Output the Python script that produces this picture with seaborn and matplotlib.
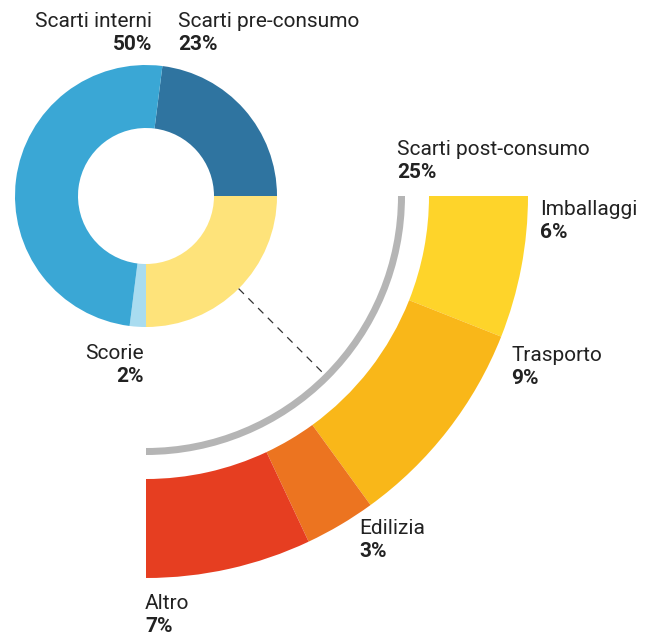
import numpy as np
import matplotlib
matplotlib.use("Agg")
import matplotlib.pyplot as plt
import seaborn as sns

# Ripartizione principale (percentuali), in senso orario dalla fetta "pre-consumo"
main_labels = ["Scarti pre-consumo", "Scarti post-consumo", "Scorie", "Scarti interni"]
main_values = [23, 25, 2, 50]
main_colors = ["#2f74a0", "#fee37a", "#a9dcf0", "#3aa7d5"]

# Dettaglio degli scarti post-consumo
post_labels = ["Imballaggi", "Trasporto", "Edilizia", "Altro"]
post_values = [6, 9, 3, 7]
post_colors = ["#fed42a", "#f9b719", "#ec7420", "#e63e21"]

sns.set_theme(style="white")
plt.rcParams["font.family"] = ["Roboto", "DejaVu Sans"]

W, H = 653, 637
fig = plt.figure(figsize=(W / 100, H / 100), dpi=100)
ax = fig.add_axes([0, 0, 1, 1])

cx, cy = 146, H - 196          # centro comune
r_out, r_in = 131, 68          # ciambella principale
g_out, g_w = 259, 7            # arco grigio
p_out, p_in = 382, 283         # corona di dettaglio

total = sum(main_values)
start = 360 * main_values[0] / total   # la fetta post-consumo parte dalle ore 3

ax.pie(main_values, colors=main_colors, radius=r_out, center=(cx, cy),
       startangle=start, counterclock=False,
       wedgeprops=dict(width=r_out - r_in, linewidth=0))

post_share = main_values[1]
ax.pie([post_share, total - post_share], colors=["#b5b5b5", "none"],
       radius=g_out, center=(cx, cy), startangle=0, counterclock=False,
       wedgeprops=dict(width=g_w, linewidth=0))

ax.pie(post_values + [total - sum(post_values)], colors=post_colors + ["none"],
       radius=p_out, center=(cx, cy), startangle=0, counterclock=False,
       wedgeprops=dict(width=p_out - p_in, linewidth=0))

# collegamento tratteggiato a metà della fetta post-consumo
ang = np.deg2rad(-360 * post_share / total / 2)
rr = np.array([r_out, g_out - g_w])
ax.plot(cx + rr * np.cos(ang), cy + rr * np.sin(ang), color="#333333",
        lw=0.9, ls=(0, (6, 5)))

txt = "#222222"
fs = 15


def label(x, y, name, pct, ha="left"):
    ax.text(x, H - y, name, ha=ha, va="baseline", fontsize=fs, color=txt)
    ax.text(x, H - y - 23, pct, ha=ha, va="baseline", fontsize=fs,
            color=txt, fontweight="bold")


label(152, 27, main_labels[3], f"{main_values[3]}%", ha="right")
label(178, 27, main_labels[0], f"{main_values[0]}%")
label(397, 155, main_labels[1], f"{main_values[1]}%")
label(144, 359, main_labels[2], f"{main_values[2]}%", ha="right")
label(540, 215, post_labels[0], f"{post_values[0]}%")
label(511, 361, post_labels[1], f"{post_values[1]}%")
label(359, 534, post_labels[2], f"{post_values[2]}%")
label(145, 609, post_labels[3], f"{post_values[3]}%")

ax.set_xlim(0, W)
ax.set_ylim(0, H)
ax.set_aspect("equal")
ax.axis("off")
fig.savefig("out.png", dpi=100, facecolor="white")
